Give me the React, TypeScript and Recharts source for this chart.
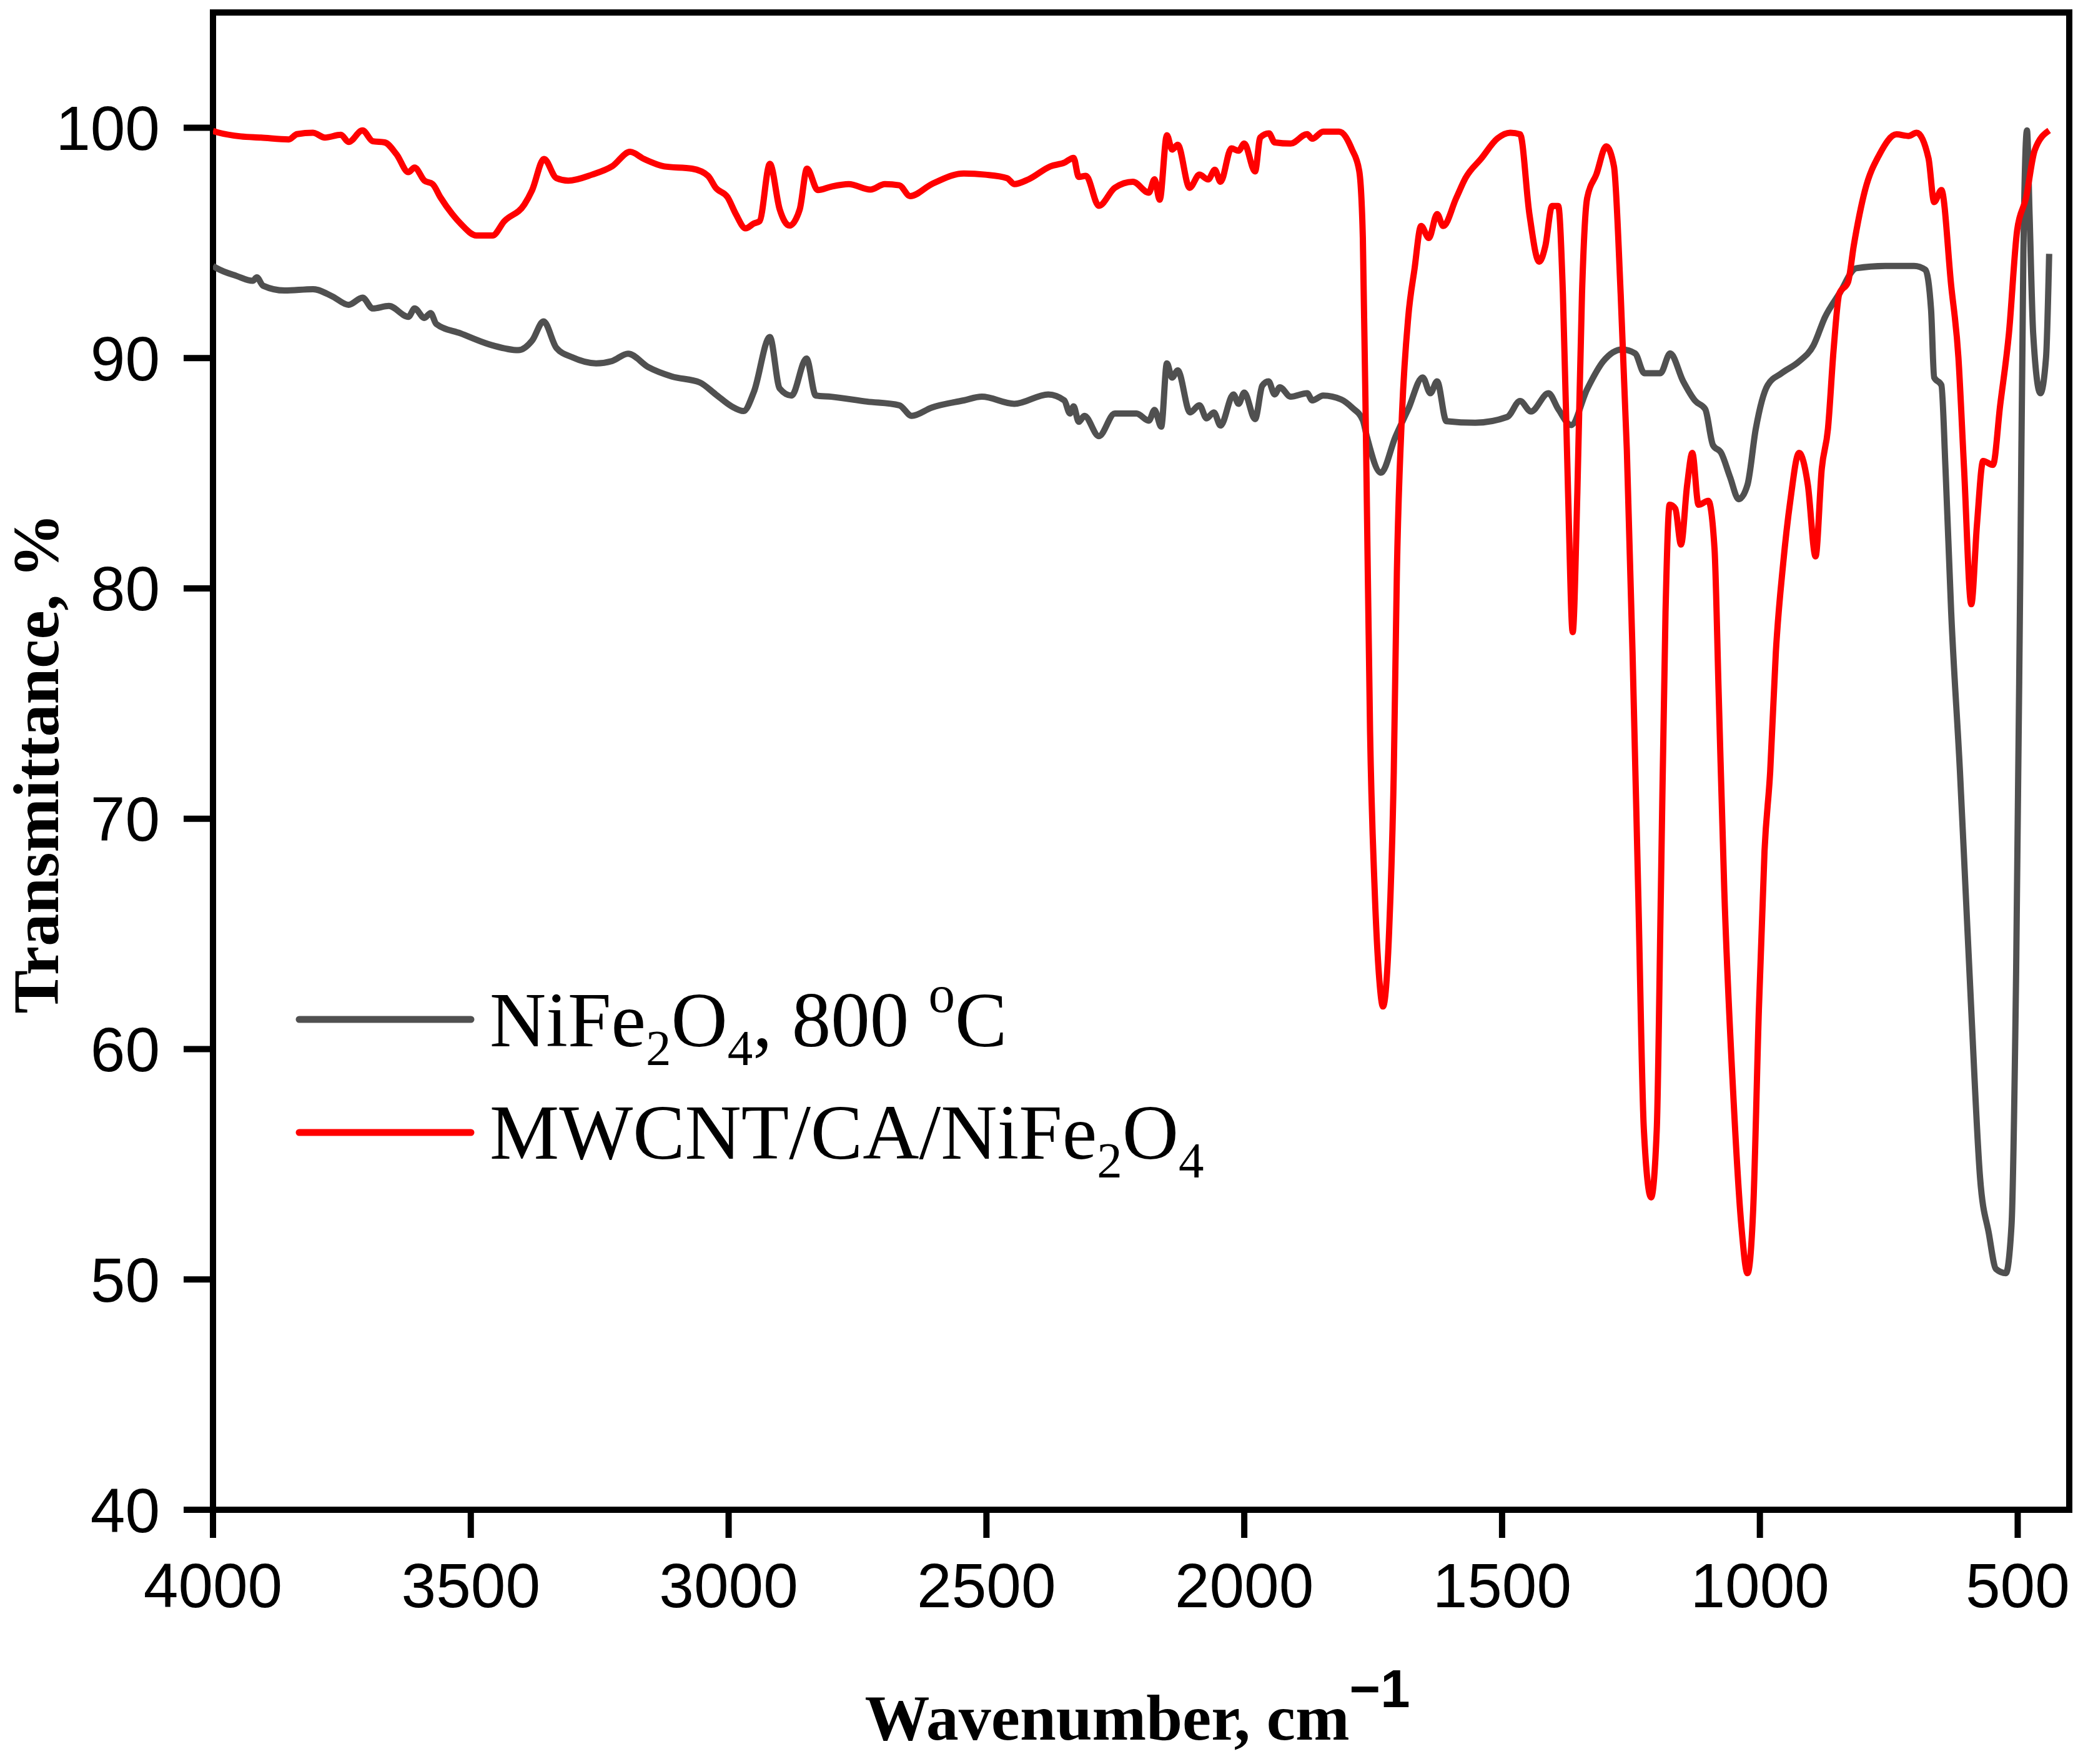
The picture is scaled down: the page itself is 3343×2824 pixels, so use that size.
import { LineChart, Line, XAxis, YAxis, Legend, Label, ReferenceArea } from 'recharts';

// NiFe2O4, 800 °C (gray)
const grayWn = [
  4000, 3992, 3954, 3923, 3915, 3903, 3861, 3806, 3768, 3737, 3710, 3690, 3659, 3621, 3609, 3590, 3578, 3567,
  3520, 3458, 3408, 3381, 3359, 3334, 3303, 3257, 3226, 3195, 3156, 3110, 3056, 3025, 2994, 2971, 2951, 2920,
  2901, 2878, 2849, 2831, 2801, 2732, 2669, 2645, 2606, 2544, 2509, 2446, 2380, 2349, 2338, 2331, 2321, 2310,
  2282, 2251, 2209, 2185, 2174, 2161, 2150, 2140, 2129, 2105, 2087, 2073, 2059, 2046, 2021, 2011, 2000, 1979,
  1965, 1953, 1941, 1931, 1910, 1878, 1868, 1847, 1812, 1791, 1770, 1762, 1735, 1707, 1682, 1654, 1639, 1626,
  1608, 1552, 1490, 1465, 1444, 1410, 1391, 1366, 1335, 1304, 1267, 1242, 1224, 1193, 1174, 1149, 1125, 1106,
  1091, 1075, 1058, 1041, 1024, 1008, 985, 958, 924, 896, 874, 846, 813, 757, 701, 679, 668, 662, 648, 640,
  629, 612, 601, 590, 573, 556, 542, 523, 512, 503, 495, 489, 482, 477, 470, 456, 445, 439,
];
const grayT = [
  94.0, 93.89, 93.56, 93.35, 93.5, 93.14, 92.93, 92.99, 92.67, 92.31, 92.62, 92.15, 92.26, 91.79, 92.15, 91.74, 91.95, 91.48,
  91.07, 90.55, 90.34, 90.76, 91.59, 90.44, 90.03, 89.77, 89.87, 90.19, 89.61, 89.2, 88.94, 88.42, 87.9, 87.7, 88.53, 90.91,
  88.68, 88.37, 89.98, 88.37, 88.32, 88.11, 87.95, 87.49, 87.85, 88.16, 88.32, 88.01, 88.42, 88.16, 87.59, 87.9, 87.23, 87.49,
  86.61, 87.59, 87.59, 87.28, 87.75, 87.02, 89.77, 89.15, 89.46, 87.64, 87.95, 87.38, 87.64, 87.07, 88.42, 88.01, 88.5, 87.35,
  88.8, 88.99, 88.42, 88.73, 88.32, 88.47, 88.16, 88.37, 88.2, 87.85, 87.3, 86.57, 85.02, 86.57, 87.78, 89.16, 88.47, 88.99,
  87.26, 87.19, 87.44, 88.13, 87.68, 88.47, 87.78, 87.09, 88.65, 89.85, 90.37, 90.2, 89.34, 89.34, 90.2, 89.0, 88.13, 87.78,
  86.22, 85.88, 84.84, 83.87, 84.5, 86.92, 88.82, 89.34, 89.85, 90.55, 91.76, 92.79, 93.9, 94.0, 94.0, 93.83, 92.1, 89.16, 88.82, 85.19,
  78.97, 72.05, 66.87, 61.68, 54.42, 52.0, 50.45, 50.27, 52.35, 63.41, 80.7, 94.5, 99.88, 96.25, 91.07, 88.47, 90.03, 94.52,
];

// MWCNT/CA/NiFe2O4 (red)
const redWn = [
  4000, 3992, 3946, 3907, 3853, 3837, 3806, 3783, 3752, 3737, 3710, 3690, 3667, 3644, 3621, 3609, 3590, 3574,
  3559, 3536, 3520, 3489, 3458, 3435, 3396, 3381, 3358, 3334, 3311, 3265, 3226, 3191, 3164, 3125, 3071, 3040,
  3025, 3002, 2986, 2967, 2951, 2940, 2920, 2901, 2882, 2862, 2848, 2827, 2801, 2767, 2725, 2697, 2669, 2648,
  2606, 2544, 2502, 2460, 2446, 2418, 2376, 2349, 2331, 2321, 2307, 2282, 2251, 2216, 2185, 2174, 2164, 2150,
  2140, 2129, 2106, 2087, 2070, 2057, 2046, 2025, 2011, 2000, 1979, 1969, 1952, 1941, 1910, 1878, 1868, 1847,
  1816, 1791, 1777, 1770, 1763, 1756, 1747, 1738, 1731, 1719, 1710, 1704, 1694, 1682, 1670, 1657, 1642, 1626,
  1614, 1589, 1571, 1540, 1509, 1484, 1465, 1447, 1428, 1416, 1403, 1391, 1382, 1372, 1363, 1354, 1345, 1335,
  1317, 1298, 1283, 1270, 1258, 1247, 1236, 1225, 1211, 1200, 1192, 1183, 1175, 1164, 1153, 1141, 1131, 1119,
  1100, 1088, 1080, 1069, 1052, 1036, 1024, 1013, 1002, 991, 980, 969, 955, 941, 924, 907, 892, 880,
  868, 857, 846, 829, 818, 796, 768, 735, 712, 696, 673, 662, 648, 629, 615, 604, 590, 579,
  567, 548, 534, 517, 501, 484, 467, 439,
];
const redT = [
  99.85, 99.8, 99.62, 99.57, 99.49, 99.72, 99.78, 99.57, 99.69, 99.38, 99.88, 99.41, 99.36, 98.84, 98.07, 98.27, 97.7, 97.55,
  96.98, 96.25, 95.84, 95.32, 95.32, 95.94, 96.67, 97.29, 98.64, 97.81, 97.7, 97.96, 98.32, 98.95, 98.64, 98.32, 98.22, 97.91,
  97.39, 96.98, 96.25, 95.63, 95.84, 95.94, 98.43, 96.46, 95.75, 96.46, 98.22, 97.29, 97.44, 97.55, 97.31, 97.55, 97.5, 97.03,
  97.55, 98.01, 97.96, 97.81, 97.55, 97.76, 98.32, 98.48, 98.69, 97.86, 97.91, 96.61, 97.39, 97.65, 97.18, 97.76, 96.87, 99.67,
  99.05, 99.26, 97.39, 97.96, 97.75, 98.17, 97.65, 99.1, 99.0, 99.31, 98.1, 99.57, 99.75, 99.36, 99.31, 99.72, 99.52, 99.83,
  99.83, 99.05, 98.12, 95.21, 85.0, 73.78, 66.87, 63.0, 61.85, 65.14, 72.05, 80.7, 87.61, 91.76, 93.83, 95.73, 95.21, 96.25,
  95.73, 96.94, 97.81, 98.67, 99.53, 99.78, 99.71, 96.25, 94.18, 94.87, 96.6, 96.6, 92.79, 84.15, 78.1, 84.15, 92.79, 96.94,
  97.98, 99.19, 98.32, 92.79, 86.0, 77.24, 66.87, 56.5, 53.56, 56.5, 66.87, 78.97, 83.63, 83.46, 81.9, 84.5, 85.88, 83.63,
  83.8, 81.73, 75.5, 66.87, 58.2, 52.35, 50.27, 53.04, 61.68, 68.6, 72.05, 77.24, 81.04, 83.8, 85.88, 84.5, 81.39, 85.19,
  86.92, 90.37, 92.79, 93.3, 94.87, 97.29, 98.84, 99.71, 99.64, 99.78, 98.67, 96.77, 97.29, 93.14, 90.03, 85.19, 79.31, 82.77,
  85.53, 85.36, 87.95, 91.07, 95.56, 96.94, 99.02, 99.88,
];

const xTicks = [500, 1000, 1500, 2000, 2500, 3000, 3500, 4000];
const yTicks = [40, 50, 60, 70, 80, 90, 100];
const xDomain = [400, 4000];
const yDomain = [40, 105];

const grayData = grayWn.map((wn, i) => ({ wn, t: grayT[i] }));
const redData = redWn.map((wn, i) => ({ wn, t: redT[i] }));

const GRAY = '#505050';
const RED = '#ff0000';
const AXIS = 10;
const TICK_LEN = 45;
const TICK_GAP = 40;
const SANS = '"Liberation Sans", Arial, sans-serif';
const SERIF = '"Liberation Serif", "Times New Roman", serif';

// tick mark + label drawn together so the stroke width is under our control
const XTick = (props: any) => {
  const { x, y, payload } = props;
  const axisY = y - TICK_LEN - TICK_GAP;
  return (
    <g>
      <line x1={x} x2={x} y1={axisY} y2={axisY + TICK_LEN} stroke="#000" strokeWidth={AXIS} />
      <text x={x} y={y} dy="0.71em" textAnchor="middle" fontFamily={SANS} fontSize={100} fill="#000">
        {payload.value}
      </text>
    </g>
  );
};

const YTick = (props: any) => {
  const { x, y, payload } = props;
  const axisX = x + TICK_LEN + TICK_GAP;
  return (
    <g>
      <line x1={axisX - TICK_LEN - 2} x2={axisX} y1={y} y2={y} stroke="#000" strokeWidth={AXIS} />
      <text x={x} y={y} dy="0.355em" textAnchor="end" fontFamily={SANS} fontSize={100} fill="#000">
        {payload.value}
      </text>
    </g>
  );
};

const legendLabels: Record<string, any> = {
  gray: (
    <>
      NiFe<tspan fontSize={81} dy={30}>2</tspan>
      <tspan dy={-30}>O</tspan>
      <tspan fontSize={81} dy={30}>4</tspan>
      <tspan dy={-30}>, 800 </tspan>
      <tspan fontSize={85} dy={-55}>o</tspan>
      <tspan dy={55}>C</tspan>
    </>
  ),
  red: (
    <>
      MWCNT/CA/NiFe<tspan fontSize={81} dy={30}>2</tspan>
      <tspan dy={-30}>O</tspan>
      <tspan fontSize={81} dy={30}>4</tspan>
    </>
  ),
};

const renderLegend = (props: any) => {
  const payload = (props.payload || []).filter((e: any) => legendLabels[e.value]);
  return (
    <svg width={2000} height={520} style={{ display: 'block', overflow: 'visible' }}>
      {payload.map((entry: any, i: number) => (
        <g key={entry.value}>
          <line x1={479} x2={754} y1={132 + i * 181} y2={132 + i * 181} stroke={entry.color} strokeWidth={11} strokeLinecap="round" />
          <text x={784} y={175 + i * 180} fontFamily={SERIF} fontSize={125} fill="#000">
            {legendLabels[entry.value]}
          </text>
        </g>
      ))}
    </svg>
  );
};

const XTitle = () => (
  <text x={1821} y={2785} textAnchor="middle" fontFamily={SERIF} fontWeight="bold" fontSize={104} fill="#000">
    Wavenumber, cm
    <tspan fontFamily={SANS} fontSize={85} dy={-52}>−1</tspan>
  </text>
);

const YTitle = () => (
  <text
    x={93}
    y={1222}
    transform="rotate(-90, 93, 1222)"
    textAnchor="middle"
    fontFamily={SERIF}
    fontWeight="bold"
    fontSize={104}
    fill="#000"
  >
    Transmittance, %
  </text>
);

export default function App() {
  return (
    <div style={{ position: 'absolute', left: 0, top: 0, width: 3343, height: 2824, background: '#fff' }}>
      <LineChart width={3343} height={2824} margin={{ top: 20, right: 30, bottom: 307, left: 41 }}>
        <XAxis
          xAxisId="b"
          type="number"
          dataKey="wn"
          domain={xDomain}
          reversed
          allowDataOverflow
          ticks={xTicks}
          height={100}
          tickSize={TICK_LEN}
          tickMargin={TICK_GAP}
          tick={<XTick />}
          axisLine={false}
          tickLine={false}
        >
          <Label content={XTitle} />
        </XAxis>
        <YAxis
          yAxisId="l"
          type="number"
          domain={yDomain}
          allowDataOverflow
          ticks={yTicks}
          width={300}
          tickSize={TICK_LEN}
          tickMargin={TICK_GAP}
          tick={<YTick />}
          axisLine={false}
          tickLine={false}
        >
          <Label content={YTitle} />
        </YAxis>
        <Legend
          layout="vertical"
          align="center"
          verticalAlign="middle"
          content={renderLegend}
          wrapperStyle={{ left: 0, top: 1500, width: 2000, height: 520 }}
        />
        <Line
          xAxisId="b"
          yAxisId="l"
          data={grayData}
          dataKey="t"
          name="gray"
          type="monotone"
          stroke={GRAY}
          strokeWidth={10}
          strokeLinejoin="round"
          dot={false}
          isAnimationActive={false}
        />
        <Line
          xAxisId="b"
          yAxisId="l"
          data={redData}
          dataKey="t"
          name="red"
          type="monotone"
          stroke={RED}
          strokeWidth={10}
          strokeLinejoin="round"
          dot={false}
          isAnimationActive={false}
        />
        {/* plot frame */}
        <ReferenceArea
          xAxisId="b"
          yAxisId="l"
          x1={xDomain[1]}
          x2={xDomain[0]}
          y1={yDomain[0]}
          y2={yDomain[1]}
          fill="none"
          fillOpacity={0}
          stroke="#000"
          strokeWidth={AXIS}
          strokeLinejoin="miter"
          ifOverflow="visible"
        />
      </LineChart>
    </div>
  );
}
